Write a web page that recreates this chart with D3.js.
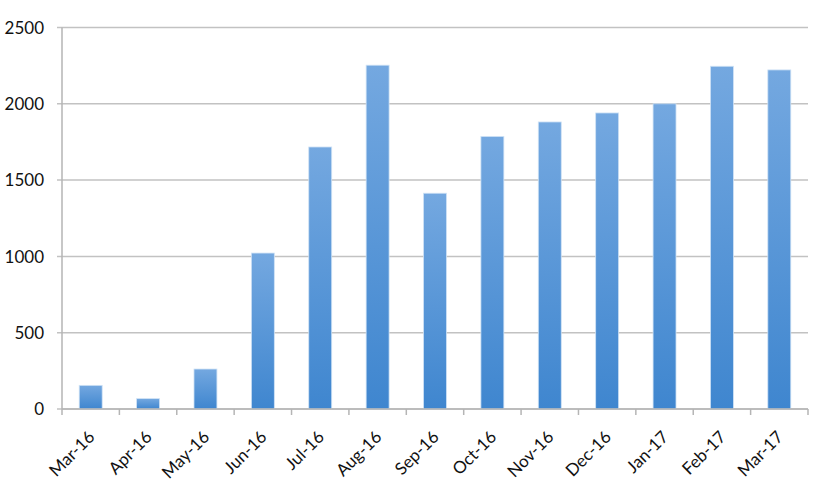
<!DOCTYPE html>
<html>
<head>
<meta charset="utf-8">
<script src="https://cdn.jsdelivr.net/npm/d3@7"></script>
<style>
  body { margin: 0; background: #fff; }
  text { font-family: Lato, "Open Sans", "Liberation Sans", sans-serif; }
</style>
</head>
<body>
<div id="chart"></div>
<script>
var months = ["Mar-16", "Apr-16", "May-16", "Jun-16", "Jul-16", "Aug-16", "Sep-16",
              "Oct-16", "Nov-16", "Dec-16", "Jan-17", "Feb-17", "Mar-17"];
var counts = [155, 68, 262, 1022, 1717, 2253, 1414, 1786, 1881, 1940, 2000, 2246, 2222];
var yTicks = [0, 500, 1000, 1500, 2000, 2500];

var width = 821;
var height = 496;
var margin = {top: 27.5, right: 13, bottom: 87, left: 62};

var svg = d3.select("#chart")
    .append("svg")
    .attr("width", width)
    .attr("height", height);

// bar gradient, lighter at top
var grad = svg.append("defs").append("linearGradient")
    .attr("id", "barFill")
    .attr("x1", 0).attr("y1", 0).attr("x2", 0).attr("y2", 1);
grad.append("stop").attr("offset", "0%").attr("stop-color", "#74a8e0");
grad.append("stop").attr("offset", "100%").attr("stop-color", "#3f86cf");

var x = d3.scaleBand()
    .domain(months)
    .range([margin.left, width - margin.right])
    .paddingInner(0.6)
    .paddingOuter(0.3);

var y = d3.scaleLinear()
    .domain([0, 2500])
    .range([height - margin.bottom, margin.top]);

// gridlines
svg.append("g")
    .selectAll("line")
    .data(yTicks)
    .enter().append("line")
    .attr("x1", margin.left - 5)
    .attr("x2", width - margin.right)
    .attr("y1", d => y(d))
    .attr("y2", d => y(d))
    .attr("stroke", "#c2c2c2")
    .attr("stroke-width", 1.5);

// y labels
svg.append("g")
    .selectAll("text")
    .data(yTicks)
    .enter().append("text")
    .attr("x", 44)
    .attr("y", d => y(d))
    .attr("dy", "0.36em")
    .attr("text-anchor", "end")
    .attr("font-size", "17px")
    .attr("fill", "#111")
    .text(d => d);

// bars
svg.append("g")
    .selectAll("rect")
    .data(counts)
    .enter().append("rect")
    .attr("x", (d, i) => x(months[i]))
    .attr("y", d => y(d))
    .attr("width", x.bandwidth())
    .attr("height", d => y(0) - y(d))
    .attr("fill", "url(#barFill)")
    .attr("stroke", "#cfe2f5")
    .attr("stroke-width", 0.8);

// category boundaries for tick marks
var step = x.step();
var bounds = months.map((m, i) => x(m) - step * 0.3).concat([width - margin.right]);

svg.append("g")
    .selectAll("line")
    .data(bounds)
    .enter().append("line")
    .attr("x1", d => d).attr("x2", d => d)
    .attr("y1", y(0)).attr("y2", y(0) + 6)
    .attr("stroke", "#b5b5b5")
    .attr("stroke-width", 1.5);

// axis lines
svg.append("line")
    .attr("x1", margin.left).attr("x2", margin.left)
    .attr("y1", y(2500)).attr("y2", y(0))
    .attr("stroke", "#b5b5b5")
    .attr("stroke-width", 1.5);
svg.append("line")
    .attr("x1", margin.left).attr("x2", width - margin.right)
    .attr("y1", y(0)).attr("y2", y(0))
    .attr("stroke", "#b5b5b5")
    .attr("stroke-width", 1.5);

// x labels rotated
svg.append("g")
    .selectAll("text")
    .data(months)
    .enter().append("text")
    .attr("transform", d => "translate(" + (x(d) + x.bandwidth() / 2 + 5) + "," + (y(0) + 29) + ") rotate(-45)")
    .attr("text-anchor", "end")
    .attr("font-size", "17px")
    .attr("fill", "#111")
    .text(d => d);
</script>
</body>
</html>
